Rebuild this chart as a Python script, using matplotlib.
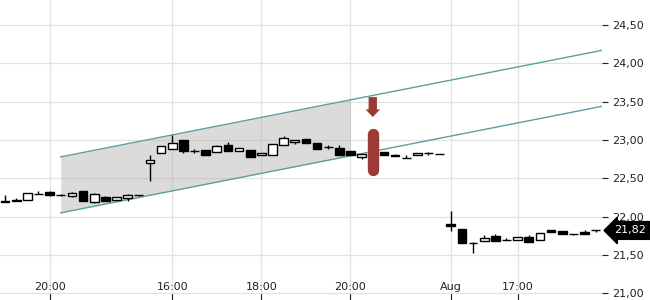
import matplotlib.pyplot as plt
import matplotlib.transforms as mtransforms
import numpy as np

# 15 minute bars
opens = [22.20, 22.22, 22.22, 22.30, 22.32, 22.28, 22.27, 22.33, 22.19, 22.26,
         22.22, 22.24, 22.28, 22.70, 22.83, 22.88, 23.00, 22.86, 22.87, 22.84,
         22.93, 22.86, 22.87, 22.80, 22.81, 22.94, 22.98, 23.01, 22.96, 22.91,
         22.89, 22.86, 22.78, 22.85, 22.84, 22.80, 22.77, 22.80, 22.83, 22.82,
         21.90, 21.84, 21.65, 21.68, 21.75, 21.70, 21.70, 21.73, 21.69, 21.82,
         21.81, 21.775, 21.80, 21.82]
highs = [22.28, 22.24, 22.31, 22.34, 22.34, 22.29, 22.32, 22.34, 22.31, 22.27,
         22.25, 22.30, 22.285, 22.80, 22.92, 23.06, 23.00, 22.88, 22.87, 22.94,
         22.97, 22.89, 22.87, 22.83, 22.95, 23.05, 23.00, 23.01, 22.96, 22.935,
         22.93, 22.86, 22.82, 22.86, 22.84, 22.82, 22.80, 22.83, 22.845, 22.82,
         22.07, 21.84, 21.67, 21.76, 21.78, 21.72, 21.73, 21.76, 21.79, 21.83,
         21.81, 21.775, 21.82, 21.83]
lows = [22.19, 22.20, 22.22, 22.29, 22.27, 22.27, 22.26, 22.20, 22.18, 22.20,
        22.22, 22.21, 22.275, 22.47, 22.83, 22.88, 22.83, 22.835, 22.80, 22.84,
        22.85, 22.86, 22.78, 22.80, 22.81, 22.94, 22.95, 22.96, 22.88, 22.885,
        22.81, 22.80, 22.75, 22.84, 22.81, 22.79, 22.77, 22.80, 22.81, 22.82,
        21.81, 21.65, 21.52, 21.68, 21.68, 21.695, 21.70, 21.665, 21.69, 21.80,
        21.77, 21.76, 21.78, 21.80]
closes = [22.19, 22.20, 22.31, 22.30, 22.28, 22.28, 22.31, 22.21, 22.30, 22.21,
          22.25, 22.28, 22.28, 22.74, 22.92, 22.96, 22.85, 22.86, 22.81, 22.92,
          22.85, 22.89, 22.78, 22.83, 22.95, 23.03, 23.00, 22.96, 22.88, 22.91,
          22.81, 22.80, 22.82, 22.85, 22.81, 22.79, 22.77, 22.83, 22.83, 22.82,
          21.88, 21.66, 21.65, 21.725, 21.68, 21.70, 21.73, 21.665, 21.79, 21.80,
          21.77, 21.775, 21.78, 21.82]

xtick_pos = [4, 15, 23, 31, 40, 46]
xtick_labels = ['20:00', '16:00', '18:00', '20:00', 'Aug', '17:00']

# trend channel (bar index, price)
channel_x = [5, 53.6]
channel_top = [22.78, 24.17]
channel_bottom = [22.05, 23.44]
shade_start, shade_end = 5, 31

# signal marker
signal_bar = 33
arrow_top, arrow_tip = 23.56, 23.30
signal_high, signal_low = 23.08, 22.61

last_price = 21.82

red = '#9c3a35'

fig = plt.figure(figsize=(6.5, 3), dpi=100)
ax = fig.add_axes([0, 0, 602 / 650, 1])

x = np.arange(len(opens))
o = np.array(opens)
c = np.array(closes)
up = c >= o

# channel
xs = np.array([shade_start, shade_end])
ax.fill_between(xs, np.interp(xs, channel_x, channel_bottom),
                np.interp(xs, channel_x, channel_top),
                color='#b0b0b0', alpha=0.45, lw=0, zorder=1)
ax.plot(channel_x, channel_top, color='#5f9ea0', lw=1, zorder=2)
ax.plot(channel_x, channel_bottom, color='#5f9ea0', lw=1, zorder=2)

# candles
ax.vlines(x, lows, highs, color='black', lw=1, zorder=3)
ax.bar(x, c - o, bottom=o, width=0.78, color=np.where(up, 'white', 'black'),
       edgecolor='black', linewidth=1, zorder=4)

# signal
ax.plot([signal_bar, signal_bar], [signal_low, signal_high], color=red, lw=8.2,
        solid_capstyle='round', zorder=6)
ax.annotate('', xy=(signal_bar, arrow_tip), xytext=(signal_bar, arrow_top),
            arrowprops=dict(width=6, headwidth=10.5, headlength=5.5, shrink=0,
                            fc=red, ec=red, lw=0), zorder=6)

ax.set_xlim(-0.45, 53.57)
ax.set_ylim(20.913, 24.826)

ax.set_xticks(xtick_pos)
ax.set_xticklabels(xtick_labels)
ax.yaxis.tick_right()
yt = np.arange(21.0, 24.51, 0.5)
ax.set_yticks(yt)
ax.set_yticklabels([f'{v:.2f}'.replace('.', ',') for v in yt])
ax.tick_params(axis='x', direction='in', length=5, pad=-13, labelsize=8,
               colors='#222222')
ax.tick_params(axis='y', direction='out', length=4, pad=3, labelsize=8,
               colors='#222222')

ax.grid(True, color='#e2e2e2', lw=0.9)
ax.set_axisbelow(True)
for s in ax.spines.values():
    s.set_visible(False)

# last price tag
trans = mtransforms.blended_transform_factory(ax.transAxes, ax.transData)
ax.text(1.02, last_price, f'{last_price:.2f}'.replace('.', ','), transform=trans,
        va='center', ha='left', color='white', fontsize=8, clip_on=False,
        bbox=dict(boxstyle='larrow,pad=0.35', fc='black', ec='black'), zorder=10)

fig.savefig('out.png', dpi=100)
